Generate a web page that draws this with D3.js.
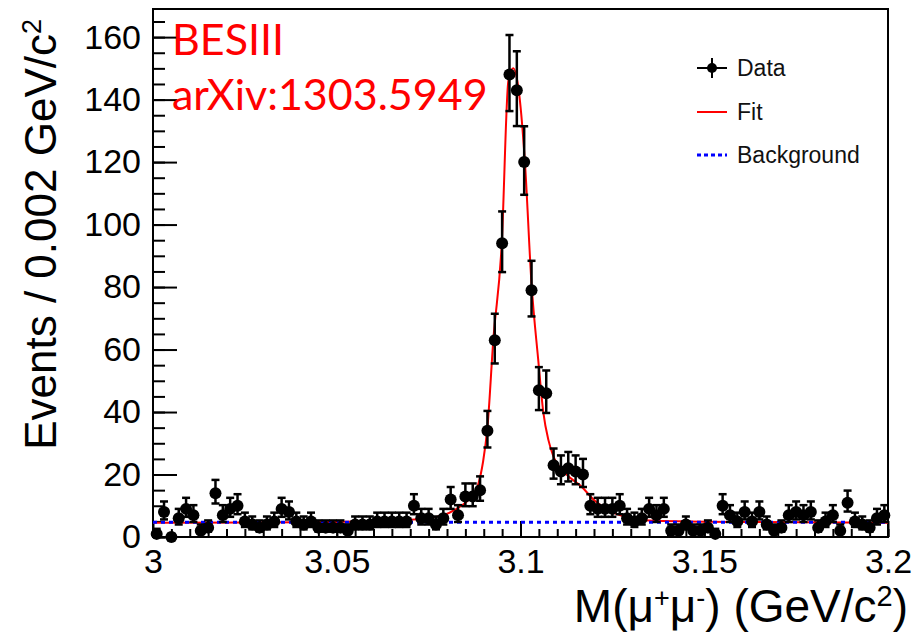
<!DOCTYPE html>
<html>
<head>
<meta charset="utf-8">
<script src="https://cdn.jsdelivr.net/npm/d3@7"></script>
<style>
  body { margin: 0; background: #fff; }
  svg { display: block; }
  .ax text { font-family: "Liberation Sans", Arial, sans-serif; fill: #000; }
</style>
</head>
<body>
<svg id="chart" width="917" height="635"></svg>
<script>
// histogram: 100 bins of 0.002 GeV/c^2 from 3.0 to 3.2
var binLow = 3.0, binWidth = 0.002;
var counts = [1, 8, 0, 6, 9, 7, 2, 3, 14, 7,
              9, 10, 5, 4, 3, 4, 5, 9, 8, 5,
              4, 5, 3, 3, 3, 3, 2, 4, 4, 4,
              5, 5, 5, 5, 5, 10, 6, 6, 4, 6,
              12, 7, 13, 13, 15, 34, 63, 94, 148, 143,
              120, 79, 47, 46, 23, 21, 22, 21, 20, 10,
              9, 9, 9, 10, 6, 5, 6, 9, 7, 9,
              2, 2, 4, 2, 2, 3, 1, 10, 7, 5,
              8, 5, 8, 4, 2, 3, 7, 8, 7, 8,
              3, 5, 7, 2, 11, 5, 4, 3, 6, 7];

// fit curve
var fitX = [3.000, 3.040, 3.070, 3.0789, 3.0826, 3.0863, 3.0884, 3.0898, 3.0910, 3.0926,
            3.0949, 3.0967, 3.0980, 3.0994, 3.1012, 3.1030, 3.1048, 3.1062, 3.1076, 3.1089,
            3.1121, 3.1167, 3.1203, 3.1257, 3.1303, 3.1366, 3.160, 3.200];
var fitY = [4.6, 4.7, 5.5, 7, 9, 12.5, 16.5, 24, 35, 63,
            94, 146, 150, 144, 120, 81, 57, 40, 31, 26,
            20.5, 16, 11.5, 7.6, 6, 5.2, 4.8, 4.6];

var bkgX = [3.0, 3.2];
var bkgY = [4.7, 4.7];

var xTicks = [3, 3.05, 3.1, 3.15, 3.2];
var xTickLabels = ["3", "3.05", "3.1", "3.15", "3.2"];
var yTicks = [0, 20, 40, 60, 80, 100, 120, 140, 160];

var legendItems = ["Data", "Fit", "Background"];

var svg = d3.select("#chart");
var pL = 153, pR = 888, pT = 9, pB = 537;
var yMax = 169;

var x = d3.scaleLinear().domain([3.0, 3.2]).range([pL, pR]);
var y = d3.scaleLinear().domain([0, yMax]).range([pB, pT]);

// poisson style error interval
function errLo(n) { return n + 0.5 - Math.sqrt(n + 0.25); }
function errHi(n) { return n + 0.5 + Math.sqrt(n + 0.25); }

var data = counts.map(function(c, i) {
  return {x: binLow + binWidth * (i + 0.5), n: c};
});

// axes (ticks pointing inwards)
var minorX = d3.range(0, 41).map(function(i) { return 3 + i * 0.005; });
var minorY = d3.range(0, 34).map(function(i) { return i * 5; });

svg.append("g").attr("class", "ax")
  .attr("transform", "translate(0," + pB + ")")
  .call(d3.axisBottom(x).tickValues(minorX).tickSize(-8).tickFormat(""))
  .call(g => g.select(".domain").remove())
  .call(g => g.selectAll("line").attr("stroke", "#000").attr("stroke-width", 2));

svg.append("g").attr("class", "ax")
  .attr("transform", "translate(0," + pB + ")")
  .call(d3.axisBottom(x).tickValues(xTicks).tickSize(-16).tickPadding(12)
        .tickFormat(function(d, i) { return xTickLabels[i]; }))
  .call(g => g.select(".domain").remove())
  .call(g => g.selectAll("line").attr("stroke", "#000").attr("stroke-width", 2))
  .call(g => g.selectAll("text").attr("font-size", 34).attr("dy", "0.71em"));

svg.append("g").attr("class", "ax")
  .attr("transform", "translate(" + pL + ",0)")
  .call(d3.axisLeft(y).tickValues(minorY).tickSize(-12).tickFormat(""))
  .call(g => g.select(".domain").remove())
  .call(g => g.selectAll("line").attr("stroke", "#000").attr("stroke-width", 2));

svg.append("g").attr("class", "ax")
  .attr("transform", "translate(" + pL + ",0)")
  .call(d3.axisLeft(y).tickValues(yTicks).tickSize(-24).tickPadding(12))
  .call(g => g.select(".domain").remove())
  .call(g => g.selectAll("line").attr("stroke", "#000").attr("stroke-width", 2))
  .call(g => g.selectAll("text").attr("font-size", 34));

// frame
svg.append("rect")
  .attr("x", pL).attr("y", pT)
  .attr("width", pR - pL).attr("height", pB - pT)
  .attr("fill", "none").attr("stroke", "#000").attr("stroke-width", 2);

// fit + background
var line = d3.line().x(d => x(d[0])).y(d => y(d[1])).curve(d3.curveMonotoneX);
svg.append("path")
  .datum(d3.zip(fitX, fitY))
  .attr("d", line)
  .attr("fill", "none").attr("stroke", "#ff0000").attr("stroke-width", 2);

svg.append("path")
  .datum(d3.zip(bkgX, bkgY))
  .attr("d", line)
  .attr("fill", "none").attr("stroke", "#0000ff").attr("stroke-width", 3)
  .attr("stroke-dasharray", "4,4");

// data points with error bars
var pts = svg.append("g");
pts.selectAll("line.err").data(data).enter().append("line")
  .attr("x1", d => x(d.x)).attr("x2", d => x(d.x))
  .attr("y1", d => y(errLo(d.n))).attr("y2", d => y(Math.min(errHi(d.n), yMax)))
  .attr("stroke", "#000").attr("stroke-width", 2.5);
pts.selectAll("line.capHi").data(data).enter().append("line")
  .attr("x1", d => x(d.x) - 4).attr("x2", d => x(d.x) + 4)
  .attr("y1", d => y(errHi(d.n))).attr("y2", d => y(errHi(d.n)))
  .attr("stroke", "#000").attr("stroke-width", 2.5);
pts.selectAll("line.capLo").data(data).enter().append("line")
  .attr("x1", d => x(d.x) - 4).attr("x2", d => x(d.x) + 4)
  .attr("y1", d => y(errLo(d.n))).attr("y2", d => y(errLo(d.n)))
  .attr("stroke", "#000").attr("stroke-width", 2.5);
pts.selectAll("circle").data(data).enter().append("circle")
  .attr("cx", d => x(d.x)).attr("cy", d => y(d.n)).attr("r", 6)
  .attr("fill", "#000");

// titles
svg.append("text")
  .attr("transform", "translate(56," + (pT + 10) + ") rotate(-90)")
  .attr("text-anchor", "end")
  .attr("font-family", "Liberation Sans, Arial, sans-serif")
  .attr("font-size", 44)
  .html('Events / 0.002 GeV/c<tspan baseline-shift="super" font-size="27">2</tspan>');

svg.append("text")
  .attr("x", 908).attr("y", 622)
  .attr("text-anchor", "end")
  .attr("font-family", "Liberation Sans, Arial, sans-serif")
  .attr("font-size", 46)
  .html('M(\u03bc<tspan baseline-shift="super" font-size="27">+</tspan>\u03bc<tspan baseline-shift="super" font-size="27">-</tspan>) (GeV/c<tspan baseline-shift="super" font-size="29">2</tspan>)');

// legend
var lg = svg.append("g").attr("font-family", "Liberation Sans, Arial, sans-serif").attr("font-size", 23);
var legY = [68, 112, 155];
lg.append("line").attr("x1", 697).attr("x2", 727).attr("y1", legY[0]).attr("y2", legY[0]).attr("stroke", "#000").attr("stroke-width", 2);
lg.append("line").attr("x1", 712).attr("x2", 712).attr("y1", legY[0] - 10).attr("y2", legY[0] + 10).attr("stroke", "#000").attr("stroke-width", 2);
lg.append("circle").attr("cx", 712).attr("cy", legY[0]).attr("r", 5).attr("fill", "#000");
lg.append("line").attr("x1", 697).attr("x2", 727).attr("y1", legY[1]).attr("y2", legY[1]).attr("stroke", "#ff0000").attr("stroke-width", 2);
lg.append("line").attr("x1", 697).attr("x2", 727).attr("y1", legY[2]).attr("y2", legY[2]).attr("stroke", "#0000ff").attr("stroke-width", 3).attr("stroke-dasharray", "4,3");
lg.selectAll("text").data(legendItems).enter().append("text")
  .attr("x", 737).attr("y", (d, i) => legY[i]).attr("dy", "0.36em")
  .attr("fill", "#111")
  .text(d => d);

// experiment label
var lab = svg.append("g").attr("font-family", "Lato, 'Open Sans', sans-serif").attr("font-size", 43).attr("fill", "#ff0000");
lab.append("text").attr("x", 172).attr("y", 55).text("BESIII");
lab.append("text").attr("x", 172).attr("y", 110).text("arXiv:1303.5949");
</script>
</body>
</html>
